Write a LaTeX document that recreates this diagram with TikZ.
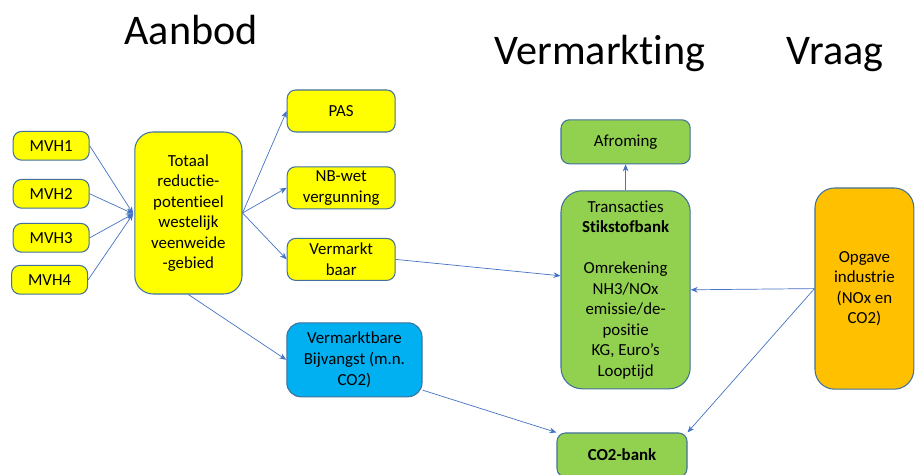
\documentclass[tikz,border=0pt]{standalone}
\usepackage{fontspec}
\setmainfont{Carlito}[Ligatures={NoCommon,NoContextual},RawFeature={-liga;-clig;-dlig;-calt}]
\usepackage{xcolor}
\definecolor{boxedge}{HTML}{41719C}
\definecolor{arrowblue}{HTML}{4472C4}
\definecolor{aanbodgeel}{HTML}{FFFF00}
\definecolor{bankgroen}{HTML}{92D050}
\definecolor{vangstblauw}{HTML}{00B0F0}
\definecolor{vraagoranje}{HTML}{FFC000}
\usepackage{tikz}
\usetikzlibrary{arrows.meta,positioning,calc}

\begin{document}
\begin{tikzpicture}[
  font=\fontsize{12}{14.6}\selectfont,
  blok/.style={
    rectangle, rounded corners=#1,
    align=center, inner sep=2pt,
    draw=boxedge, line width=0.75pt
  },
  blok/.default=6pt,
  klein/.style={
    blok, fill=aanbodgeel,
    minimum width=1.9cm, minimum height=0.72cm
  },
  keuze/.style={
    blok, fill=aanbodgeel,
    minimum width=2.7cm, minimum height=1.05cm
  },
  bank/.style={
    blok, fill=bankgroen,
    minimum width=3.23cm
  },
  kop/.style={font=\fontsize{30}{36}\selectfont, anchor=base},
  arr/.style={-{Stealth[length=5pt,width=4pt]}, line width=0.5pt, color=arrowblue}
]
\useasboundingbox (0,0) rectangle (22.875,11.875);

% koppen
\node[kop] (aanbod) at (4.78,10.75) {Aanbod};
\node[kop] (vermarkting) at (15.0,10.25) {Vermarkting};
\node[kop] (vraag) at (20.88,10.25) {Vraag};

% aanbod
\node[klein] (mvh1) at (1.28,8.23) {MVH1};
\node[klein] (mvh2) at (1.28,7.03) {MVH2};
\node[klein] (mvh3) at (1.28,5.93) {MVH3};
\node[klein] (mvh4) at (1.24,4.88) {MVH4};
\coordinate (samen) at (3.33,6.53);
\node[blok=13pt, fill=aanbodgeel, minimum width=2.68cm, minimum height=4.05cm]
  (totaal) at (4.71,6.55) {Totaal\\reductie-\\potentieel\\westelijk\\veenweide\\-gebied};

\node[keuze] (pas) at (8.53,9.10) {PAS};
\node[keuze] (nbwet) at (8.53,7.18) {NB-wet\\vergunning};
\node[keuze] (vermarkt) at (8.53,5.39) {Vermarkt\\baar};
\node[blok=10pt, fill=vangstblauw, minimum width=3.38cm, minimum height=1.85cm]
  (bijvangst) at (8.86,2.88) {Vermarktbare\\Bijvangst (m.n.\\CO2)};

% vermarkting
\node[bank, minimum height=1.1cm] (afroming) at (15.64,8.33) {Afroming};
\node[bank, blok=15pt, minimum height=4.95cm] (stikstof) at (15.64,4.63)
  {Transacties\\\textbf{Stikstofbank}\\[14.6pt]Omrekening\\NH3/NOx\\emissie/de-\\positie\\KG, Euro’s\\Looptijd};
\node[bank, minimum width=3.25cm, minimum height=1.1cm] (co2bank) at (15.55,0.5) {\textbf{CO2-bank}};

% vraag
\node[blok=14pt, fill=vraagoranje, minimum width=2.47cm, minimum height=5.03cm]
  (opgave) at (21.61,4.66) {Opgave\\industrie\\(NOx en\\CO2)};

\foreach \m in {mvh1,mvh2,mvh3,mvh4}
  \draw[arr] (\m.east) -- (samen);
\draw[arr] (totaal.east) -- (pas.west);
\draw[arr] (totaal.east) -- (nbwet.west);
\draw[arr] (totaal.east) -- (vermarkt.west);
\draw[arr] (totaal.south) -- (bijvangst.west);
\draw[arr] (vermarkt.east) -- ([yshift=0.35cm]stikstof.west);
\draw[arr] (stikstof.north) -- (afroming.south);
\draw[arr] (opgave.west) -- (stikstof.east);
\draw[arr] (opgave.west) -- (co2bank.north east);
\draw[arr] ([yshift=0.18cm]bijvangst.south east) -- (co2bank.north west);
\end{tikzpicture}
\end{document}
